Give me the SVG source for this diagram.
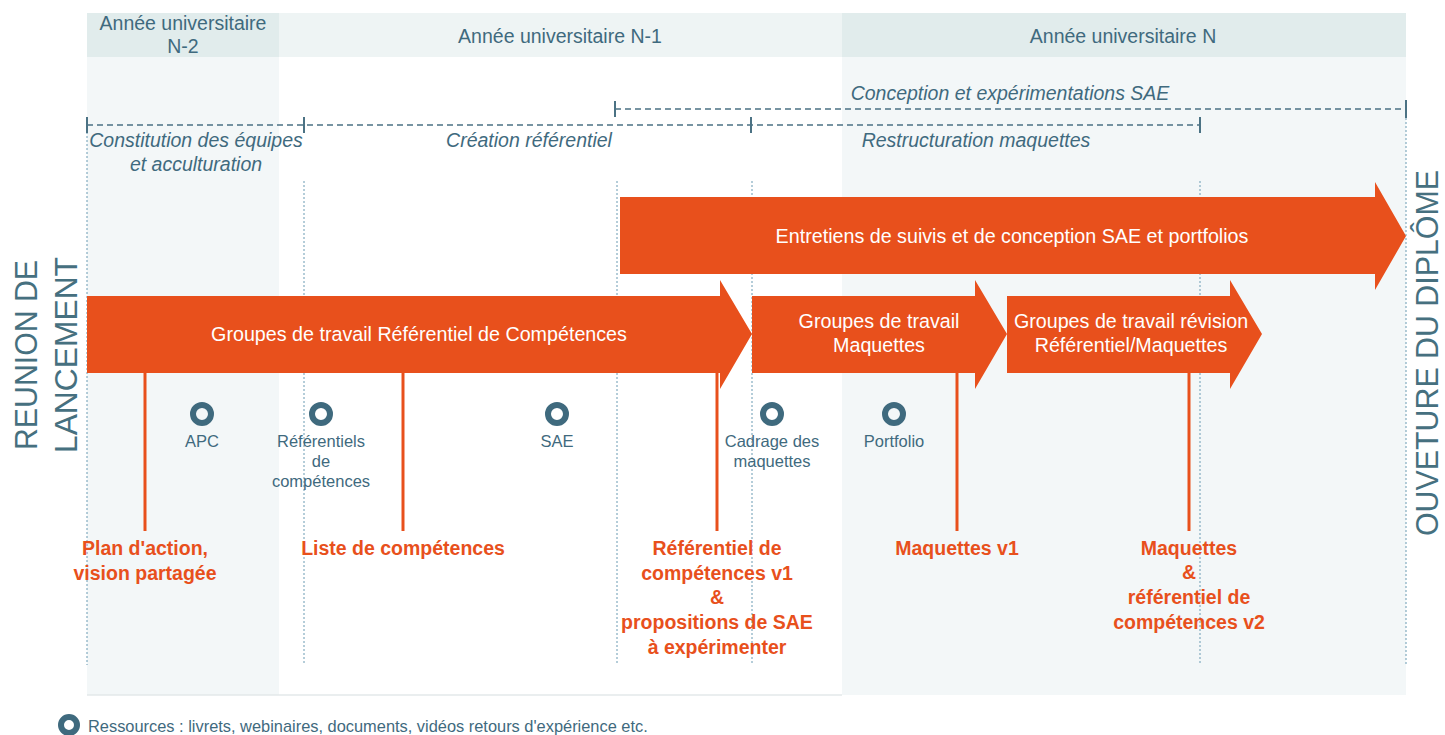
<svg xmlns="http://www.w3.org/2000/svg" width="1445" height="735" viewBox="0 0 1445 735">
  <style>
    .hdr { font-family: "Liberation Sans", Arial, sans-serif; font-size: 19.5px; fill: #3f6a7e; text-anchor: middle; }
    .ital { font-family: "Liberation Sans", Arial, sans-serif; font-size: 19.5px; font-style: italic; fill: #3f6a7e; text-anchor: middle; }
    .bar { font-family: "Liberation Sans", Arial, sans-serif; font-size: 19.7px; fill: #ffffff; text-anchor: middle; }
    .res { font-family: "Liberation Sans", Arial, sans-serif; font-size: 16.5px; fill: #3f6a7e; text-anchor: middle; }
    .mile { font-family: "Liberation Sans", Arial, sans-serif; font-size: 19.5px; font-weight: bold; fill: #e8501c; text-anchor: middle; }
    .side { font-family: "Liberation Sans", Arial, sans-serif; font-size: 32px; fill: #46707f; text-anchor: middle; }
    .dash { stroke: #4b7284; stroke-width: 1.5; stroke-dasharray: 6 4; fill: none; }
    .tick { stroke: #4b7284; stroke-width: 2; fill: none; }
    .dot { stroke: #6b9bb3; stroke-width: 1; stroke-dasharray: 2 2; fill: none; }
    .arrow { fill: #e8501c; }
    .ms { stroke: #e8501c; stroke-width: 3; fill: none; }
    .ring { fill: none; stroke: #3f6a7e; stroke-width: 6; }
  </style>

  <rect width="1445" height="735" fill="#ffffff"/>

  <!-- year columns -->
  <g id="columns">
    <rect x="87" y="57" width="192" height="638" fill="#f3f7f8"/>
    <rect x="842" y="57" width="564" height="638" fill="#f3f7f8"/>
    <rect x="87" y="13" width="192" height="44" fill="#e1ecec"/>
    <rect x="279" y="13" width="563" height="44" fill="#eef4f4"/>
    <rect x="842" y="13" width="564" height="44" fill="#e1ecec"/>
    <line x1="87" y1="695" x2="842" y2="695" stroke="#e3e8ea" stroke-width="1.5"/>
    <text class="hdr" x="183" y="30">Année universitaire</text>
    <text class="hdr" x="183" y="53">N-2</text>
    <text class="hdr" x="560" y="43">Année universitaire N-1</text>
    <text class="hdr" x="1123" y="43">Année universitaire N</text>
  </g>

  <!-- dotted guides -->
  <g id="guides">
    <line class="dot" x1="87" y1="132" x2="87" y2="665"/>
    <line class="dot" x1="304" y1="181" x2="304" y2="665"/>
    <line class="dot" x1="617" y1="181" x2="617" y2="665"/>
    <line class="dot" x1="752" y1="181" x2="752" y2="665"/>
    <line class="dot" x1="1200" y1="181" x2="1200" y2="665"/>
    <line class="dot" x1="1406" y1="118" x2="1406" y2="665"/>
  </g>

  <!-- phase timelines -->
  <g id="phases">
    <line class="dash" x1="87" y1="125" x2="1200" y2="125"/>
    <line class="tick" x1="87" y1="117" x2="87" y2="133"/>
    <line class="tick" x1="304" y1="117" x2="304" y2="133"/>
    <line class="tick" x1="751" y1="117" x2="751" y2="133"/>
    <line class="tick" x1="1200" y1="117" x2="1200" y2="133"/>
    <line class="dash" x1="615" y1="109" x2="1406" y2="109"/>
    <line class="tick" x1="615" y1="101" x2="615" y2="117"/>
    <line class="tick" x1="1406" y1="100" x2="1406" y2="118"/>
    <text class="ital" x="196" y="147">Constitution des équipes</text>
    <text class="ital" x="196" y="171">et acculturation</text>
    <text class="ital" x="529" y="147">Création référentiel</text>
    <text class="ital" x="976" y="147">Restructuration maquettes</text>
    <text class="ital" x="1010" y="100">Conception et expérimentations SAE</text>
  </g>

  <!-- milestone connectors -->
  <g id="connectors">
    <line class="ms" x1="145" y1="372" x2="145" y2="531"/>
    <line class="ms" x1="403" y1="372" x2="403" y2="531"/>
    <line class="ms" x1="717" y1="372" x2="717" y2="531"/>
    <line class="ms" x1="957" y1="372" x2="957" y2="531"/>
    <line class="ms" x1="1189" y1="372" x2="1189" y2="531"/>
  </g>

  <!-- work stream arrows -->
  <g id="arrow-entretiens">
    <polygon class="arrow" points="620,197 1375,197 1375,182 1406,236 1375,290 1375,274 620,274"/>
    <text class="bar" x="1012" y="243">Entretiens de suivis et de conception SAE et portfolios</text>
  </g>
  <g id="arrow-referentiel">
    <polygon class="arrow" points="87,296 720,296 720,280 752,334 720,389 720,373 87,373"/>
    <text class="bar" x="419" y="341">Groupes de travail Référentiel de Compétences</text>
  </g>
  <g id="arrow-maquettes">
    <polygon class="arrow" points="752,296 975,296 975,280 1007,334 975,389 975,373 752,373"/>
    <text class="bar" x="879" y="328">Groupes de travail</text>
    <text class="bar" x="879" y="352">Maquettes</text>
  </g>
  <g id="arrow-revision">
    <polygon class="arrow" points="1007,296 1230,296 1230,280 1262,334 1230,389 1230,373 1007,373"/>
    <text class="bar" x="1131" y="328">Groupes de travail révision</text>
    <text class="bar" x="1131" y="352">Référentiel/Maquettes</text>
  </g>

  <!-- resources -->
  <g id="res-apc">
    <circle class="ring" cx="202" cy="414" r="9"/>
    <text class="res" x="202" y="447">APC</text>
  </g>
  <g id="res-referentiels">
    <circle class="ring" cx="321" cy="414" r="9"/>
    <text class="res" x="321" y="447">Référentiels</text>
    <text class="res" x="321" y="467">de</text>
    <text class="res" x="321" y="487">compétences</text>
  </g>
  <g id="res-sae">
    <circle class="ring" cx="557" cy="414" r="9"/>
    <text class="res" x="557" y="447">SAE</text>
  </g>
  <g id="res-cadrage">
    <circle class="ring" cx="772" cy="414" r="9"/>
    <text class="res" x="772" y="447">Cadrage des</text>
    <text class="res" x="772" y="467">maquettes</text>
  </g>
  <g id="res-portfolio">
    <circle class="ring" cx="894" cy="414" r="9"/>
    <text class="res" x="894" y="447">Portfolio</text>
  </g>

  <!-- milestones -->
  <g id="ms-plan">
    <text class="mile" x="145" y="555">Plan d'action,</text>
    <text class="mile" x="145" y="580">vision partagée</text>
  </g>
  <g id="ms-liste">
    <text class="mile" x="403" y="555">Liste de compétences</text>
  </g>
  <g id="ms-ref-v1">
    <text class="mile" x="717" y="555">Référentiel de</text>
    <text class="mile" x="717" y="580">compétences v1</text>
    <text class="mile" x="717" y="604">&amp;</text>
    <text class="mile" x="717" y="629">propositions de SAE</text>
    <text class="mile" x="717" y="654">à expérimenter</text>
  </g>
  <g id="ms-maq-v1">
    <text class="mile" x="957" y="555">Maquettes v1</text>
  </g>
  <g id="ms-v2">
    <text class="mile" x="1189" y="555">Maquettes</text>
    <text class="mile" x="1189" y="579">&amp;</text>
    <text class="mile" x="1189" y="604">référentiel de</text>
    <text class="mile" x="1189" y="629">compétences v2</text>
  </g>

  <!-- start and end markers -->
  <g id="start">
    <text class="side" transform="translate(37,355) rotate(-90)" textLength="190" lengthAdjust="spacingAndGlyphs">REUNION DE</text>
    <text class="side" transform="translate(77,355) rotate(-90)" textLength="196" lengthAdjust="spacingAndGlyphs">LANCEMENT</text>
  </g>
  <g id="end">
    <text class="side" font-size="30" transform="translate(1438,353) rotate(-90)" textLength="366" lengthAdjust="spacingAndGlyphs">OUVETURE DU DIPLÔME</text>
  </g>

  <!-- legend -->
  <g id="legend">
    <circle class="ring" cx="69" cy="725" r="8"/>
    <text x="88" y="732" font-family="Liberation Sans, Arial, sans-serif" font-size="16.4" fill="#3f6a7e">Ressources : livrets, webinaires, documents, vidéos retours d'expérience etc.</text>
  </g>
</svg>
